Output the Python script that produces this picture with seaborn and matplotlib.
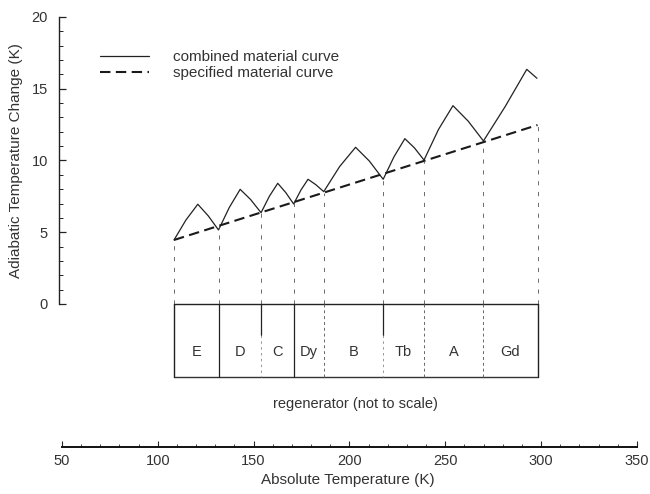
import numpy as np
import pandas as pd
import matplotlib
matplotlib.use("Agg")
import matplotlib.pyplot as plt
import seaborn as sns
from matplotlib.ticker import MultipleLocator, FixedLocator

# ---------------- data ----------------
combined_T = [108.5, 114.7, 120.9, 126.3, 131.7, 137.35, 143.0, 148.45, 153.9,
              158.25, 162.6, 166.75, 170.9, 174.65, 178.4, 182.5, 186.6,
              194.9, 203.2, 210.4, 217.6, 223.25, 228.9, 233.9, 238.9,
              246.45, 254.0, 261.95, 269.9, 281.2, 292.5, 297.8]
combined_dT = [4.46, 5.85, 6.95, 6.15, 5.16, 6.73, 7.99, 7.28, 6.36,
               7.51, 8.41, 7.77, 6.97, 7.93, 8.69, 8.31, 7.83,
               9.58, 10.92, 9.96, 8.69, 10.26, 11.52, 10.88, 10.03,
               12.16, 13.82, 12.74, 11.36, 13.75, 16.35, 15.73]
specified_T = [108.5, 298.1]
specified_dT = [4.46, 12.47]

boundaries = [108.5, 131.7, 153.9, 170.9, 186.6, 217.6, 238.9, 269.9, 298.1]
materials = ["E", "D", "C", "Dy", "B", "Tb", "A", "Gd"]
divider_style = ["solid", "half", "solid", "dashed", "half", "dashed", "dashed"]
box_depth = 5.1

y_ticks = [0, 5, 10, 15, 20]
y_minor = list(range(0, 21))
x_ticks = [50, 100, 150, 200, 250, 300, 350]

# ---------------- style ----------------
sns.set_theme(style="white")
plt.rcParams["font.family"] = ["Liberation Sans", "DejaVu Sans"]
plt.rcParams["text.color"] = "#222222"

W, H = 650, 494
fig = plt.figure(figsize=(W / 100, H / 100), dpi=100)

xlim = (48.5, 350)
x_left_px, x_right_px = 59, 637
ylim = (-8, 20.5)
y_top_px, y_bot_px = 9.8, 418.8
ax = fig.add_axes([x_left_px / W, 1 - y_bot_px / H,
                   (x_right_px - x_left_px) / W, (y_bot_px - y_top_px) / H])
ax.set_xlim(*xlim)
ax.set_ylim(*ylim)

df_comb = pd.DataFrame({"T": combined_T, "dT": combined_dT})
df_spec = pd.DataFrame({"T": specified_T, "dT": specified_dT})

sns.lineplot(data=df_comb, x="T", y="dT", ax=ax, color="#222222", lw=0.9,
             sort=False, label="combined material curve")
sns.lineplot(data=df_spec, x="T", y="dT", ax=ax, color="#1a1a1a", lw=1.5,
             sort=False, label="specified material curve", dashes=False)
ax.lines[-1].set_dashes((5, 2.6))

# vertical dashed projection lines from the regenerator up to the specified curve
tops = np.interp(boundaries, specified_T, specified_dT)
for b, t in zip(boundaries, tops):
    ax.plot([b, b], [0, t], color="#555555", lw=0.6, dashes=(5, 8))

# regenerator box
x0, x1 = boundaries[0], boundaries[-1]
ax.plot([x0, x1], [0, 0], color="#222222", lw=1.0)
ax.plot([x0, x1], [-box_depth, -box_depth], color="#333333", lw=1.0)
ax.plot([x0, x0], [0, -box_depth], color="#222222", lw=1.0)
ax.plot([x1, x1], [0, -box_depth], color="#222222", lw=1.0)
for b, st in zip(boundaries[1:-1], divider_style):
    if st == "solid":
        ax.plot([b, b], [0, -box_depth], color="#222222", lw=0.9)
    elif st == "half":
        ax.plot([b, b], [0, -box_depth * 0.42], color="#222222", lw=0.9)
        ax.plot([b, b], [-box_depth * 0.42, -box_depth], color="#888888",
                lw=0.6, dashes=(3, 4))
    else:
        ax.plot([b, b], [0, -box_depth], color="#666666", lw=0.7, dashes=(3, 3))

for m, a, b in zip(materials, boundaries[:-1], boundaries[1:]):
    ax.text((a + b) / 2, -box_depth * 0.65, m, ha="center", va="center",
            fontsize=10.5, color="#333333")
ax.text((x0 + x1) / 2, -6.95, "regenerator (not to scale)", ha="center",
        va="center", fontsize=10.5, color="#333333")

# y axis styling
for s in ["top", "right", "bottom"]:
    ax.spines[s].set_visible(False)
ax.spines["left"].set_bounds(0, 20)
ax.spines["left"].set_color("#222222")
ax.spines["left"].set_linewidth(1.0)
ax.set_yticks(y_ticks)
ax.yaxis.set_minor_locator(FixedLocator(y_minor))
ax.tick_params(axis="y", which="major", direction="in", length=5, width=0.9,
               color="#222222", labelsize=10.5, pad=8, left=True,
               labelcolor="#333333")
ax.tick_params(axis="y", which="minor", direction="in", length=3, width=0.7,
               color="#222222", left=True)
ax.set_xticks([])
ax.set_xlabel("")
ax.set_ylabel("Adiabatic Temperature Change (K)", fontsize=11, color="#333333")
ax.yaxis.set_label_coords(-0.062, (y_bot_px - 160.5) / (y_bot_px - y_top_px))

leg = ax.legend(loc="upper left", bbox_to_anchor=(100 / W, 1 - 50 / H),
                bbox_transform=fig.transFigure, frameon=False, fontsize=11,
                handlelength=3.2, handletextpad=1.6, labelspacing=0.15,
                borderpad=0, borderaxespad=0)
for t in leg.get_texts():
    t.set_color("#333333")

# bottom temperature axis
axb_y = 446.7
axb = fig.add_axes([x_left_px / W, 1 - axb_y / H, (x_right_px - x_left_px) / W,
                    0.01])
axb.set_xlim(*xlim)
axb.set_ylim(0, 1)
axb.set_yticks([])
for s in ["top", "right", "left"]:
    axb.spines[s].set_visible(False)
axb.spines["bottom"].set_bounds(50, 350)
axb.spines["bottom"].set_color("#111111")
axb.spines["bottom"].set_linewidth(1.4)
axb.set_xticks(x_ticks)
axb.xaxis.set_minor_locator(MultipleLocator(10))
axb.tick_params(axis="x", which="major", direction="in", length=4, width=0.8,
                labelsize=10.5, pad=5, bottom=True, labelcolor="#333333")
axb.tick_params(axis="x", which="minor", direction="in", length=2, width=0.6,
                bottom=True)
axb.set_xlabel("Absolute Temperature (K)", fontsize=11, color="#333333",
               labelpad=4)
axb.set_facecolor("none")

fig.savefig("out.png", dpi=100)
